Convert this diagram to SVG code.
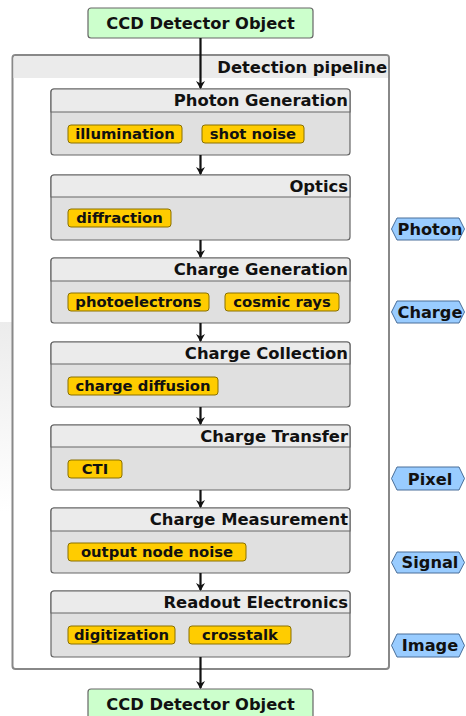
<svg xmlns="http://www.w3.org/2000/svg" width="466" height="716" viewBox="0 0 466 716">
<style>
text{font-family:"DejaVu Sans","Liberation Sans",sans-serif;font-weight:bold;fill:#111}
.io rect{fill:#ccffcc;stroke:#666;stroke-width:1.2}
.io text{font-size:16.3px;text-anchor:middle}
.stage .body{fill:#e0e0e0;stroke:#666;stroke-width:1.2}
.stage .head{fill:#ebebeb;stroke:#666;stroke-width:1.2}
.stage .title{font-size:16.4px;text-anchor:end}
.chip rect{fill:#ffcc00;stroke:#8a7000;stroke-width:1}
.chip text{font-size:14.8px;text-anchor:middle}
.tag polygon{fill:#99ccff;stroke:#4a6f99;stroke-width:1}
.tag text{font-size:16.2px;text-anchor:middle}
.conn line{stroke:#111;stroke-width:2.2}
</style>
<defs>
<marker id="ah" markerWidth="10" markerHeight="10" refX="7" refY="5" orient="auto" markerUnits="userSpaceOnUse">
<path d="M0,0.5 L8,5 L0,9.5 L2.5,5 Z" fill="#111"/>
</marker>
<linearGradient id="fade" x1="0" y1="0" x2="0" y2="1">
<stop offset="0" stop-color="#ececec"/>
<stop offset="1" stop-color="#ffffff"/>
</linearGradient>
</defs>
<rect x="0" y="322" width="35" height="190" fill="url(#fade)"/>

<g id="pipeline">
<rect x="12.5" y="55" width="376.5" height="614" rx="3" fill="#fff" stroke="#888" stroke-width="2"/>
<path d="M13.5,78 V58 Q13.5,56 15.5,56 H386 Q388,56 388,58 V78 Z" fill="#ebebeb"/>
<text x="387" y="73" style="font-size:16.4px;text-anchor:end">Detection pipeline</text>
</g>

<g id="ccd_in" class="io"><rect x="88" y="8" width="225" height="30" rx="3"/><text x="200.5" y="29">CCD Detector Object</text></g>
<g id="ccd_out" class="io"><rect x="88" y="689" width="225" height="30" rx="3"/><text x="200.5" y="710">CCD Detector Object</text></g>

<g id="photon_generation" class="stage">
<rect class="body" x="51" y="89" width="299" height="66" rx="3"/>
<path class="head" d="M51,112 V92 Q51,89 54,89 H347 Q350,89 350,92 V112 Z"/>
<text class="title" x="348" y="106">Photon Generation</text>
<g class="chip"><rect x="68" y="125" width="114" height="18" rx="3"/><text x="125" y="139">illumination</text></g>
<g class="chip"><rect x="202" y="125" width="102" height="18" rx="3"/><text x="253" y="139">shot noise</text></g>
</g>

<g id="optics" class="stage">
<rect class="body" x="51" y="175" width="299" height="65" rx="3"/>
<path class="head" d="M51,197 V178 Q51,175 54,175 H347 Q350,175 350,178 V197 Z"/>
<text class="title" x="348" y="192">Optics</text>
<g class="chip"><rect x="68" y="209" width="103" height="18" rx="3"/><text x="119.5" y="223">diffraction</text></g>
</g>

<g id="charge_generation" class="stage">
<rect class="body" x="51" y="258" width="299" height="65" rx="3"/>
<path class="head" d="M51,281 V261 Q51,258 54,258 H347 Q350,258 350,261 V281 Z"/>
<text class="title" x="348" y="275">Charge Generation</text>
<g class="chip"><rect x="68" y="293" width="141" height="18" rx="3"/><text x="138.5" y="307">photoelectrons</text></g>
<g class="chip"><rect x="225" y="293" width="114" height="18" rx="3"/><text x="282" y="307">cosmic rays</text></g>
</g>

<g id="charge_collection" class="stage">
<rect class="body" x="51" y="342" width="299" height="65" rx="3"/>
<path class="head" d="M51,364 V345 Q51,342 54,342 H347 Q350,342 350,345 V364 Z"/>
<text class="title" x="348" y="359">Charge Collection</text>
<g class="chip"><rect x="68" y="377" width="150" height="18" rx="3"/><text x="143" y="391">charge diffusion</text></g>
</g>

<g id="charge_transfer" class="stage">
<rect class="body" x="51" y="425" width="299" height="65" rx="3"/>
<path class="head" d="M51,447 V428 Q51,425 54,425 H347 Q350,425 350,428 V447 Z"/>
<text class="title" x="348" y="442">Charge Transfer</text>
<g class="chip"><rect x="68" y="460" width="54" height="18" rx="3"/><text x="95" y="474">CTI</text></g>
</g>

<g id="charge_measurement" class="stage">
<rect class="body" x="51" y="508" width="299" height="65" rx="3"/>
<path class="head" d="M51,531 V511 Q51,508 54,508 H347 Q350,508 350,511 V531 Z"/>
<text class="title" x="348" y="525">Charge Measurement</text>
<g class="chip"><rect x="68" y="543" width="178" height="18" rx="3"/><text x="157" y="557">output node noise</text></g>
</g>

<g id="readout_electronics" class="stage">
<rect class="body" x="51" y="591" width="299" height="66" rx="3"/>
<path class="head" d="M51,613 V594 Q51,591 54,591 H347 Q350,591 350,594 V613 Z"/>
<text class="title" x="348" y="608">Readout Electronics</text>
<g class="chip"><rect x="68" y="626" width="107" height="18" rx="3"/><text x="121.5" y="640">digitization</text></g>
<g class="chip"><rect x="189" y="626" width="102" height="18" rx="3"/><text x="240" y="640">crosstalk</text></g>
</g>

<g id="tag_photon" class="tag"><polygon points="391.5,229 397,218 459,218 464.5,229 459,240 397,240"/><text x="430" y="235">Photon</text></g>
<g id="tag_charge" class="tag"><polygon points="391.5,312 397,301 459,301 464.5,312 459,323 397,323"/><text x="430" y="318">Charge</text></g>
<g id="tag_pixel" class="tag"><polygon points="391.5,478.5 397,467 459,467 464.5,478.5 459,490 397,490"/><text x="430" y="484.5">Pixel</text></g>
<g id="tag_signal" class="tag"><polygon points="391.5,562.5 397,552 459,552 464.5,562.5 459,573 397,573"/><text x="430" y="568">Signal</text></g>
<g id="tag_image" class="tag"><polygon points="391.5,645.5 397,634 459,634 464.5,645.5 459,657 397,657"/><text x="430" y="651">Image</text></g>

<g id="connectors" class="conn">
<line x1="200.5" y1="38" x2="200.5" y2="88" marker-end="url(#ah)"/>
<line x1="200.5" y1="155" x2="200.5" y2="174" marker-end="url(#ah)"/>
<line x1="200.5" y1="240" x2="200.5" y2="257" marker-end="url(#ah)"/>
<line x1="200.5" y1="323" x2="200.5" y2="341" marker-end="url(#ah)"/>
<line x1="200.5" y1="407" x2="200.5" y2="424" marker-end="url(#ah)"/>
<line x1="200.5" y1="490" x2="200.5" y2="507" marker-end="url(#ah)"/>
<line x1="200.5" y1="573" x2="200.5" y2="590" marker-end="url(#ah)"/>
<line x1="200.5" y1="657" x2="200.5" y2="688" marker-end="url(#ah)"/>
</g>
</svg>
